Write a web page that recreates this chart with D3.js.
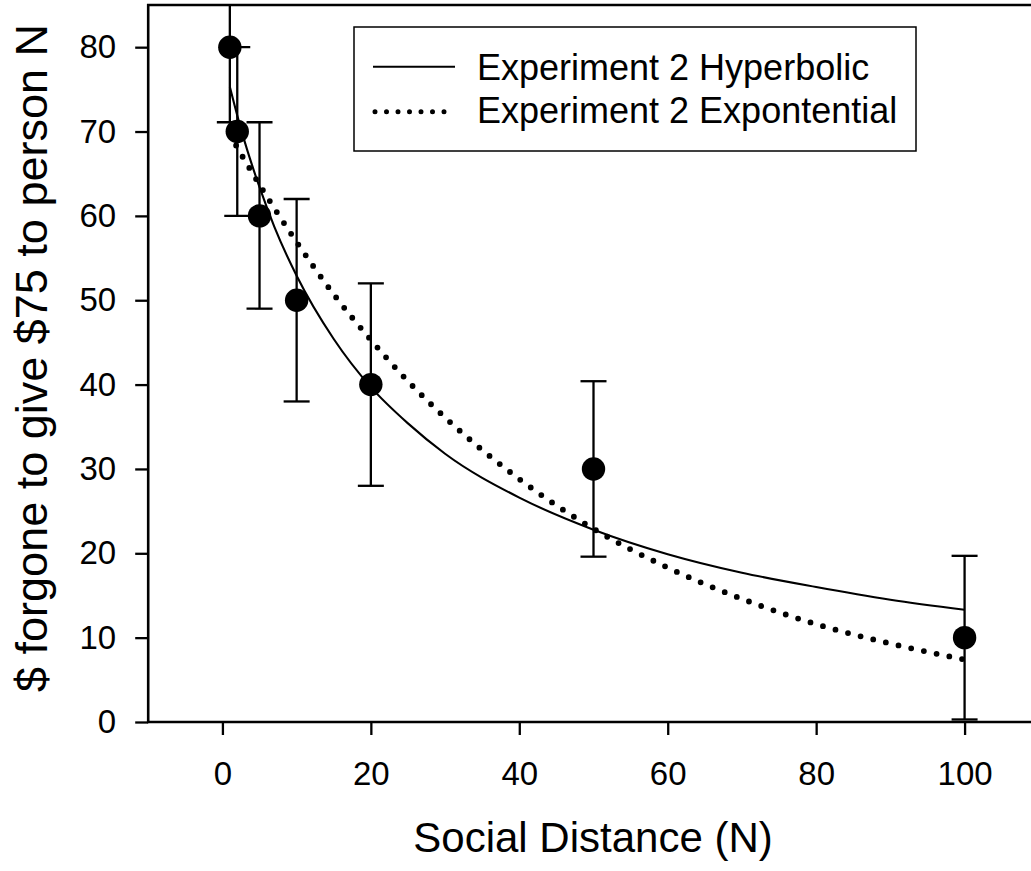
<!DOCTYPE html>
<html>
<head>
<meta charset="utf-8">
<script src="https://d3js.org/d3.v7.min.js"></script>
<style>
  body { margin: 0; background: white; }
  text { font-family: "Liberation Sans", Arial, sans-serif; fill: black; }
</style>
</head>
<body>
<svg id="MainSVG" width="1031" height="871"></svg>
<script>
// observed points (social distance N, $ forgone) with +/- error
var socialN   = [1, 2, 5, 10, 20, 50, 100];
var forgone   = [80, 70, 60, 50, 40, 30, 10];
var errUpper  = [8.9, 10, 11.1, 12, 12, 10.4, 9.7];
var errLower  = [8.9, 10, 11.0, 12, 12, 10.4, 9.7];

// fitted curves, values
var curveN      = [1, 2, 3, 5, 7, 10, 15, 20, 25, 30, 40, 50, 60, 70, 80, 90, 100];
var hyperbolic  = [75.3, 71.9, 68.8, 63.4, 58.7, 52.9, 45.4, 39.7, 35.4, 31.8, 26.6, 22.8, 19.9, 17.7, 16.0, 14.5, 13.3];
var exponential = [69.7, 68.1, 66.6, 63.7, 60.9, 56.9, 50.7, 45.3, 40.4, 36.1, 28.8, 22.9, 18.3, 14.6, 11.6, 9.3, 7.4];

var xTicks = [0, 20, 40, 60, 80, 100];
var yTicks = [0, 10, 20, 30, 40, 50, 60, 70, 80];
var legendLabels = ["Experiment 2 Hyperbolic", "Experiment 2 Expontential"];

var svg = d3.select("#MainSVG");

var pLeft = 148.2, pTop = 5, pBottom = 722, pRight = 1038.8;

var xs = d3.scaleLinear().domain([-10, 110]).range([pLeft, pRight]);
var ys = d3.scaleLinear().domain([0, 85]).range([pBottom, pTop]);

svg.append("clipPath").attr("id", "plotClip")
  .append("rect")
  .attr("x", pLeft).attr("y", pTop)
  .attr("width", pRight - pLeft).attr("height", pBottom - pTop);

var plot = svg.append("g").attr("clip-path", "url(#plotClip)");

// curves
var line = d3.line()
  .x(function(d) { return xs(d[0]); })
  .y(function(d) { return ys(d[1]); })
  .curve(d3.curveMonotoneX);

plot.append("path")
  .datum(curveN.map(function(n, i) { return [n, exponential[i]]; }))
  .attr("d", line)
  .attr("fill", "none")
  .attr("stroke", "black")
  .attr("stroke-width", 5.8)
  .attr("stroke-linecap", "round")
  .attr("stroke-dasharray", "0 13");

plot.append("path")
  .datum(curveN.map(function(n, i) { return [n, hyperbolic[i]]; }))
  .attr("d", line)
  .attr("fill", "none")
  .attr("stroke", "black")
  .attr("stroke-width", 2.1);

// error bars
var pts = socialN.map(function(n, i) {
  return { n: n, v: forgone[i], hi: forgone[i] + errUpper[i], lo: forgone[i] - errLower[i] };
});

var bars = plot.selectAll(".err").data(pts).enter().append("g").attr("class", "err")
  .attr("stroke", "black").attr("stroke-width", 2.3);

bars.append("line")
  .attr("x1", function(d) { return xs(d.n); })
  .attr("x2", function(d) { return xs(d.n); })
  .attr("y1", function(d) { return ys(d.hi); })
  .attr("y2", function(d) { return ys(d.lo); });

bars.append("line")
  .attr("x1", function(d) { return xs(d.n) - 13; })
  .attr("x2", function(d) { return xs(d.n) + 13; })
  .attr("y1", function(d) { return ys(d.hi); })
  .attr("y2", function(d) { return ys(d.hi); });

bars.append("line")
  .attr("x1", function(d) { return xs(d.n) - 13; })
  .attr("x2", function(d) { return xs(d.n) + 13; })
  .attr("y1", function(d) { return ys(d.lo); })
  .attr("y2", function(d) { return ys(d.lo); });

plot.selectAll(".dot").data(pts).enter().append("circle")
  .attr("class", "dot")
  .attr("cx", function(d) { return xs(d.n); })
  .attr("cy", function(d) { return ys(d.v); })
  .attr("r", 11.7)
  .attr("fill", "black");

// frame
svg.append("path")
  .attr("d", "M" + pRight + " " + pTop + " L" + pLeft + " " + pTop + " L" + pLeft + " " + pBottom + " L" + pRight + " " + pBottom)
  .attr("fill", "none")
  .attr("stroke", "black")
  .attr("stroke-width", 2.6);

// axes
var yAxis = svg.append("g")
  .attr("transform", "translate(" + pLeft + ",0)")
  .call(d3.axisLeft(ys).tickValues(yTicks).tickSize(13).tickPadding(19));
yAxis.select(".domain").remove();
yAxis.selectAll(".tick line").attr("stroke-width", 2.3);
yAxis.selectAll(".tick text")
  .attr("font-size", 33).attr("font-family", "Liberation Sans, Arial, sans-serif");

var xAxis = svg.append("g")
  .attr("transform", "translate(0," + pBottom + ")")
  .call(d3.axisBottom(xs).tickValues(xTicks).tickSize(13).tickPadding(27));
xAxis.select(".domain").remove();
xAxis.selectAll(".tick line").attr("stroke-width", 2.3);
xAxis.selectAll(".tick text")
  .attr("font-size", 33).attr("font-family", "Liberation Sans, Arial, sans-serif");

// axis titles
svg.append("text")
  .attr("x", 593).attr("y", 852)
  .attr("text-anchor", "middle")
  .attr("font-size", 42)
  .text("Social Distance (N)");

svg.append("text")
  .attr("transform", "translate(47,358) rotate(-90)")
  .attr("text-anchor", "middle")
  .attr("font-size", 45)
  .text("$ forgone to give $75 to person N");

// legend
var legend = svg.append("g");
legend.append("rect")
  .attr("x", 354).attr("y", 27)
  .attr("width", 562).attr("height", 124)
  .attr("fill", "white").attr("stroke", "black").attr("stroke-width", 1.5);

legend.append("line")
  .attr("x1", 373).attr("x2", 455).attr("y1", 66.7).attr("y2", 66.7)
  .attr("stroke", "black").attr("stroke-width", 2);

legend.append("line")
  .attr("x1", 375).attr("x2", 455).attr("y1", 111.7).attr("y2", 111.7)
  .attr("stroke", "black").attr("stroke-width", 5)
  .attr("stroke-linecap", "round").attr("stroke-dasharray", "0 11.5");

legend.selectAll(".lab").data(legendLabels).enter().append("text")
  .attr("class", "lab")
  .attr("x", 477)
  .attr("y", function(d, i) { return 80 + i * 43.3; })
  .attr("font-size", 36)
  .text(function(d) { return d; });
</script>
</body>
</html>
